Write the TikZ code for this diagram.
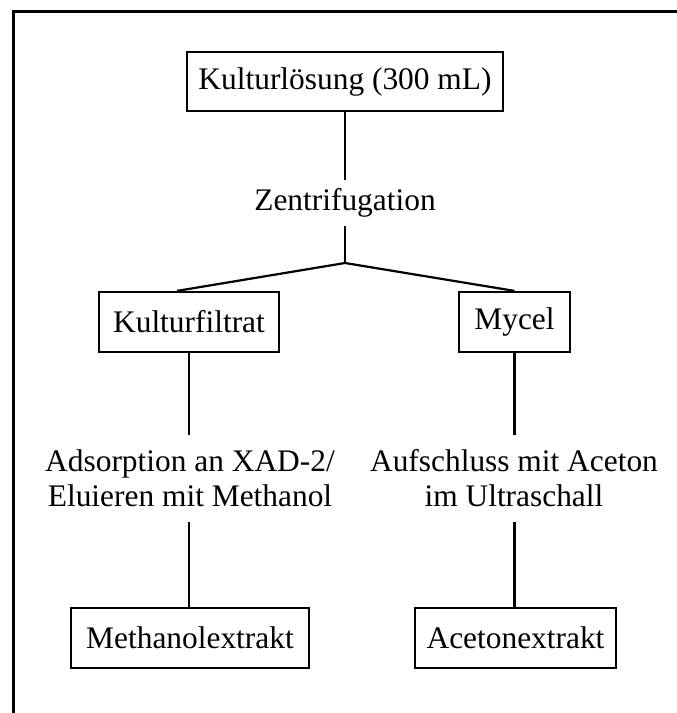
\documentclass[tikz,border=0pt]{standalone}
\usepackage{fontspec}
\setmainfont{Liberation Serif}
\begin{document}
\begin{tikzpicture}[x=1bp,y=-1bp,
  stepbox/.style={draw,line width=2.2bp,inner sep=0pt,minimum height=60bp,
    font=\fontsize{31.4bp}{35bp}\selectfont},
  steplabel/.style={inner sep=8bp,align=center,
    font=\fontsize{31.4bp}{35bp}\selectfont},
  conn/.style={line width=2.2bp}]
\useasboundingbox (0,0) rectangle (677,713);
% frame (top and left edges visible)
\draw[line width=2.8bp] (13.5,713) -- (13.5,11.5) -- (677,11.5);
% nodes
\node[stepbox,minimum width=316bp,minimum height=59bp] (top) at (345,81.5) {Kulturlösung (300 mL)};
\node[steplabel] (zent) at (345,203) {Zentrifugation};
\coordinate (branch) at (345,263);
\node[stepbox,minimum width=180bp] (filt) at (189,322) {Kulturfiltrat};
\node[stepbox,minimum width=111bp] (myc) at (514.5,322) {Mycel};
\node[steplabel,inner ysep=15bp] (ads) at (190,478.5) {Adsorption an XAD-2/\\Eluieren mit Methanol};
\node[steplabel,inner ysep=15bp] (ultra) at (514,478.5) {Aufschluss mit Aceton\\im Ultraschall};
\node[stepbox,minimum width=238bp] (meth) at (190,638) {Methanolextrakt};
\node[stepbox,minimum width=201bp] (acet) at (515.5,638) {Acetonextrakt};
% connectors
\draw[conn] (top.south) -- (zent.north);
\draw[conn] (zent.south) -- (branch);
\draw[conn] (branch) -- ([xshift=-12bp]filt.north);
\draw[conn] (branch) -- (myc.north);
\draw[conn] (filt.south) -- (ads.north -| filt.south);
\draw[conn] (ads.south -| filt.south) -- (meth.north -| filt.south);
\draw[conn] (myc.south) -- (ultra.north -| myc.south);
\draw[conn] (ultra.south -| myc.south) -- (acet.north -| myc.south);
\end{tikzpicture}
\end{document}
